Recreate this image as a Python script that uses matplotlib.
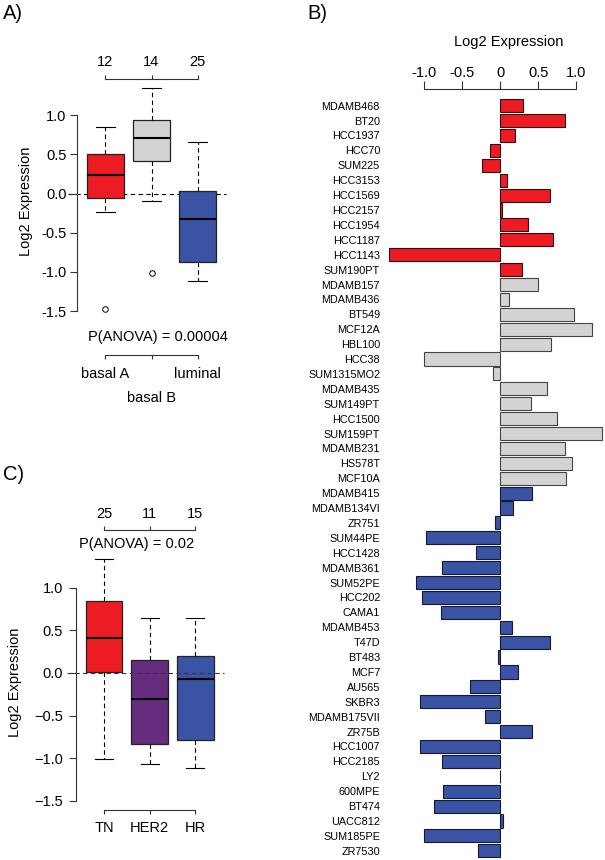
import numpy as np
import matplotlib
matplotlib.use('Agg')
import matplotlib.pyplot as plt
from matplotlib.transforms import blended_transform_factory

plt.rcParams['font.family'] = ['Liberation Sans', 'DejaVu Sans']

# ---------------- data ----------------
cell_lines = ['MDAMB468', 'BT20', 'HCC1937', 'HCC70', 'SUM225', 'HCC3153', 'HCC1569', 'HCC2157',
              'HCC1954', 'HCC1187', 'HCC1143', 'SUM190PT',
              'MDAMB157', 'MDAMB436', 'BT549', 'MCF12A', 'HBL100', 'HCC38', 'SUM1315MO2',
              'MDAMB435', 'SUM149PT', 'HCC1500', 'SUM159PT', 'MDAMB231', 'HS578T', 'MCF10A',
              'MDAMB415', 'MDAMB134VI', 'ZR751', 'SUM44PE', 'HCC1428', 'MDAMB361', 'SUM52PE',
              'HCC202', 'CAMA1', 'MDAMB453', 'T47D', 'BT483', 'MCF7', 'AU565', 'SKBR3',
              'MDAMB175VII', 'ZR75B', 'HCC1007', 'HCC2185', 'LY2', '600MPE', 'BT474',
              'UACC812', 'SUM185PE', 'ZR7530']
expression = [0.30, 0.85, 0.19, -0.14, -0.24, 0.09, 0.65, 0.02, 0.36, 0.70, -1.47, 0.28,
              0.49, 0.11, 0.97, 1.21, 0.67, -1.01, -0.10, 0.61, 0.41, 0.75, 1.34, 0.85, 0.94, 0.87,
              0.42, 0.17, -0.07, -0.98, -0.32, -0.77, -1.11, -1.03, -0.78, 0.15, 0.65, -0.03,
              0.23, -0.40, -1.06, -0.20, 0.42, -1.05, -0.77, -0.01, -0.76, -0.87, 0.03, -1.01, -0.29]
subtype = ['basal A'] * 12 + ['basal B'] * 14 + ['luminal'] * 25
subtype_order = ['basal A', 'basal B', 'luminal']
subtype_colors = {'basal A': '#ED1C24', 'basal B': '#D3D3D3', 'luminal': '#3A53A4'}
subtype_edges = {'basal A': '#2a1010', 'basal B': '#444444', 'luminal': '#151a33'}
anova_A = 'P(ANOVA) = 0.00004'

clinical_groups = ['TN', 'HER2', 'HR']
clinical_counts = [25, 11, 15]
clinical_whislo = [-1.01, -1.07, -1.11]
clinical_q1 = [0.015, -0.83, -0.78]
clinical_med = [0.41, -0.30, -0.07]
clinical_q3 = [0.84, 0.15, 0.195]
clinical_whishi = [1.34, 0.645, 0.65]
clinical_colors = ['#ED1C24', '#662D7F', '#3A53A4']
anova_C = 'P(ANOVA) = 0.02'

yticks_box = [-1.5, -1.0, -0.5, 0.0, 0.5, 1.0]
xticks_bar = [-1.0, -0.5, 0.0, 0.5, 1.0]
xticklabels_bar = ['-1.0', '-0.5', '0', '0.5', '1.0']

# ---------------- helpers ----------------
W, H = 605, 860
fig = plt.figure(figsize=(W / 100, H / 100), dpi=100)
FS = 10.5


def px_axes(x0, y0, x1, y1):
    return fig.add_axes([x0 / W, 1 - y1 / H, (x1 - x0) / W, (y1 - y0) / H])


def fy(py):
    return 1 - py / H


def fivenum(v):
    v = np.sort(np.asarray(v, dtype=float))
    n = len(v)
    n4 = np.floor((n + 3) / 2) / 2
    d = np.array([1, n4, (n + 1) / 2, n + 1 - n4, n]) - 1
    return 0.5 * (v[np.floor(d).astype(int)] + v[np.ceil(d).astype(int)])


def tukey_stats(v):
    v = np.asarray(v, dtype=float)
    mn, q1, med, q3, mx = fivenum(v)
    iqr = q3 - q1
    lo, hi = q1 - 1.5 * iqr, q3 + 1.5 * iqr
    inside = v[(v >= lo) & (v <= hi)]
    return dict(med=med, q1=q1, q3=q3, whislo=inside.min(), whishi=inside.max(),
                fliers=v[(v < lo) | (v > hi)])


DASH = (0, (4, 3))


def draw_box(ax, stats, colors):
    bp = ax.bxp(stats, positions=[1, 2, 3], widths=0.8, capwidths=0.4, patch_artist=True,
                showfliers=True,
                boxprops=dict(edgecolor='#222222', linewidth=0.9),
                medianprops=dict(color='black', linewidth=1.5),
                whiskerprops=dict(color='black', linewidth=0.8, linestyle=DASH),
                capprops=dict(color='black', linewidth=0.8),
                flierprops=dict(marker='o', markerfacecolor='none', markeredgecolor='black',
                                markersize=4, markeredgewidth=0.7))
    for patch, c in zip(bp['boxes'], colors):
        patch.set_facecolor(c)
    return bp


def style_box_axes(ax, ylabels, pad):
    ax.set_xlim(0.38, 3.62)
    ax.spines['right'].set_visible(False)
    ax.spines['left'].set_bounds(-1.5, 1.0)
    ax.spines['top'].set_bounds(1, 3)
    ax.spines['bottom'].set_bounds(1, 3)
    for s in ax.spines.values():
        s.set_linewidth(0.8)
        s.set_color('#333333')
    ax.set_xticks([1, 2, 3])
    ax.tick_params(axis='x', top=True, bottom=True, direction='out', length=3,
                   labelbottom=False, labeltop=False, width=0.8, color='#333333')
    ax.set_yticks(yticks_box)
    ax.set_yticklabels(ylabels)
    ax.tick_params(axis='y', direction='out', length=5.3, pad=pad, labelsize=FS,
                   width=0.8, color='#333333')
    ax.patch.set_visible(False)


# ---------------- panel A ----------------
axA = px_axes(76.6, 79, 226.4, 317.5)
axA.set_ylim(-1.58, 1.459)
statsA = [tukey_stats([e for e, s in zip(expression, subtype) if s == g]) for g in subtype_order]
countsA = [sum(1 for s in subtype if s == g) for g in subtype_order]
axA.plot([0.2, 3.62], [0, 0], color='black', lw=0.8, ls=DASH, clip_on=False, zorder=0.5)
draw_box(axA, statsA, [subtype_colors[g] for g in subtype_order])
style_box_axes(axA, ['%.1f' % t for t in yticks_box], 1.9)
axA.spines['bottom'].set_position(('outward', 27.2))
trA = blended_transform_factory(axA.transData, fig.transFigure)
for i, c in enumerate(countsA):
    axA.text(i + 1, fy(66.5), str(c), transform=trA, ha='center', va='baseline', fontsize=FS)
axA.text(2.13, fy(340.5), anova_A, transform=trA, ha='center', va='baseline', fontsize=FS)
axA.text(1, fy(378.3), subtype_order[0], transform=trA, ha='center', va='baseline', fontsize=FS)
axA.text(2, fy(401.7), subtype_order[1], transform=trA, ha='center', va='baseline', fontsize=FS)
axA.text(3, fy(378.3), subtype_order[2], transform=trA, ha='center', va='baseline', fontsize=FS)
fig.text(26 / W, fy(201), 'Log2 Expression', rotation=90, ha='center', va='center', fontsize=FS)
fig.text(3 / W, fy(19), 'A)', ha='left', va='baseline', fontsize=14.5)

# ---------------- panel C ----------------
axC = px_axes(75.7, 530, 223.6, 810)
axC.set_ylim(-1.606, 1.676)
statsC = [dict(med=m, q1=a, q3=b, whislo=lo, whishi=hi, fliers=[])
          for m, a, b, lo, hi in zip(clinical_med, clinical_q1, clinical_q3,
                                     clinical_whislo, clinical_whishi)]
draw_box(axC, statsC, clinical_colors)
axC.plot([0.2, 3.62], [0, 0], color='#333333', lw=0.8, ls=DASH, clip_on=False, zorder=5)
style_box_axes(axC, ['%.1f' % t if t >= 0 else '\u2212%.1f' % -t for t in yticks_box], 4)
trC = blended_transform_factory(axC.transData, fig.transFigure)
for i, c in enumerate(clinical_counts):
    axC.text(i + 1, fy(518.3), str(c), transform=trC, ha='center', va='baseline', fontsize=FS)
axC.text(1.715, fy(548), anova_C, transform=trC, ha='center', va='baseline', fontsize=FS)
for i, g in enumerate(clinical_groups):
    axC.text(i + 1, fy(831.5), g, transform=trC, ha='center', va='baseline', fontsize=FS)
fig.text(15.5 / W, fy(682.5), 'Log2 Expression', rotation=90, ha='center', va='center', fontsize=FS)
fig.text(3 / W, fy(480.5), 'C)', ha='left', va='baseline', fontsize=14.5)

# ---------------- panel B ----------------
axB = px_axes(385, 89.3, 605, 860)
ypos = np.arange(len(cell_lines))
axB.barh(ypos, expression, height=0.88,
         color=[subtype_colors[s] for s in subtype],
         edgecolor=[subtype_edges[s] for s in subtype], linewidth=0.8)
axB.set_xlim(-1.517, 1.378)
axB.set_ylim(50.62, -1.1)
for k in ['left', 'right', 'bottom']:
    axB.spines[k].set_visible(False)
axB.spines['top'].set_bounds(-1, 1)
axB.spines['top'].set_linewidth(0.8)
axB.spines['top'].set_color('#333333')
axB.set_xticks(xticks_bar)
axB.set_xticklabels(xticklabels_bar)
axB.tick_params(axis='x', top=True, bottom=False, labeltop=True, labelbottom=False,
                direction='out', length=5.5, pad=1.2, labelsize=FS, width=0.8, color='#333333')
axB.set_yticks(ypos)
axB.set_yticklabels(cell_lines)
axB.tick_params(axis='y', length=0, pad=3.6, labelsize=7.8)
axB.patch.set_visible(False)
fig.text(508.5 / W, fy(46), 'Log2 Expression', ha='center', va='baseline', fontsize=FS)
fig.text(307 / W, fy(19), 'B)', ha='left', va='baseline', fontsize=14.5)

fig.savefig('out.png', dpi=100)
